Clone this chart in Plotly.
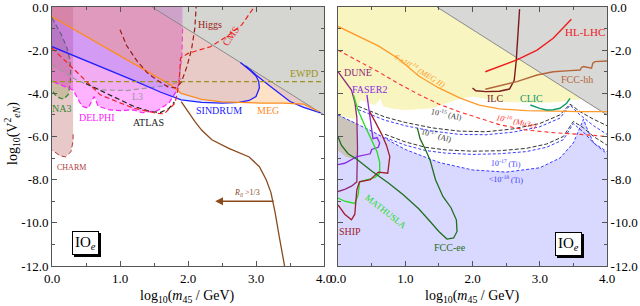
import plotly.graph_objects as go

FONT = "Liberation Serif"

# ---------------- shared geometry ----------------
GRAYTRI_X = [1.47, 4.0, 4.0]
GRAYTRI_Y = [0.0, 0.0, -5.0]

# ---------------- left panel data ----------------
CHARM_X = [0, 0.31, 0.31, 0.28, 0.2, 0.12, 0.05, 0]
CHARM_Y = [0, 0, -6.2, -6.7, -6.94, -6.9, -6.75, -6.62]
CHARM_EDGE_X = [0.31, 0.31, 0.28, 0.2, 0.12, 0.05, 0]
CHARM_EDGE_Y = [-5.9, -6.2, -6.7, -6.94, -6.9, -6.75, -6.62]

NA3_X = [0, 0.05, 0.14, 0.22, 0.26, 0.275, 0.27, 0.24, 0.17, 0.10, 0.04, 0.0]
NA3_Y = [-0.5, -0.8, -1.3, -1.9, -2.4, -2.9, -3.5, -4.05, -4.27, -4.2, -4.05, -3.85]

DELPHI_X = [0, 1.92, 1.92, 1.91, 1.88, 1.86, 1.84, 1.72, 1.55, 1.33, 1.2, 1.0, 0.85,
            0.68, 0.62, 0.53, 0.44, 0.31, 0.02, 0]
DELPHI_Y = [0, 0, -1.0, -2.3, -3.0, -3.6, -3.84, -4.45, -4.8, -4.9, -4.77, -4.8, -4.77,
            -4.6, -4.15, -4.69, -4.6, -3.84, -3.47, -3.45]

L3_X = [0, 0.36, 0.71, 1.1, 1.39, 1.69, 1.85, 1.9, 1.9, 0]
L3_Y = [-2.69, -3.38, -3.84, -3.87, -3.76, -3.64, -3.5, -3.3, 0, 0]

SINDA_X = [0, 0.4, 0.8, 1.2, 1.6, 1.9, 2.2, 2.5, 2.75, 2.9, 3.0, 3.05, 3.04, 3.0, 2.92, 2.77]
SINDA_Y = [-1.84, -2.35, -2.87, -3.4, -3.95, -4.3, -4.42, -4.45, -4.42, -4.33, -4.15, -3.75,
           -3.45, -3.2, -2.95, -2.57]
SINDB_X = [2.85, 3.0, 3.18, 3.35, 3.5, 3.7, 3.95]
SINDB_Y = [-2.73, -3.15, -3.6, -4.0, -4.38, -4.65, -4.9]

MEG_X = [0, 0.4, 0.8, 1.2, 1.6, 1.75, 1.9, 2.2, 2.5, 2.8, 3.1, 3.4, 3.7, 3.92]
MEG_Y = [-0.45, -1.17, -1.9, -2.62, -3.35, -3.62, -4.0, -4.28, -4.4, -4.43, -4.45, -4.45,
         -4.5, -4.84]

EWPD_X = [0, 4]
EWPD_Y = [-3.46, -3.46]

ATLAS_X = [0.5, 0.7, 0.95, 1.2, 1.45, 1.6, 1.72, 1.8]
ATLAS_Y = [-3.55, -3.85, -4.25, -4.6, -4.85, -4.88, -4.7, -4.4]

CMS_X = [0, 0.36, 0.71, 1.2, 1.54, 1.65, 1.81, 1.87, 1.89, 2.0, 2.33, 2.57, 2.79, 2.96]
CMS_Y = [-1.9, -3.0, -4.07, -4.69, -4.92, -4.95, -4.45, -3.53, -2.37, -2.15, -1.84, -1.37,
         -0.83, -0.06]

HIGGS_X = [1.0, 1.1, 1.25, 1.4, 1.55, 1.7, 1.82, 1.9, 1.98, 2.05, 2.1, 2.12]
HIGGS_Y = [-1.05, -1.8, -2.5, -3.05, -3.4, -3.7, -3.75, -3.5, -2.8, -2.0, -1.0, 0]

RLL_X = [1.9, 2.0, 2.1, 2.2, 2.35, 2.6, 2.9, 3.05, 3.15, 3.22, 3.28, 3.34, 3.42]
RLL_Y = [-4.38, -4.85, -5.3, -5.7, -6.15, -6.55, -6.95, -7.4, -8.0, -8.6, -9.5, -10.6, -12]

# ---------------- right panel data ----------------
YEL_X = [0, 1.47, 3.6, 3.6, 3.46, 3.3, 2.96, 2.46, 2.0, 1.76, 1.4, 1.0, 0.8, 0.67, 0.63,
         0.6, 0.55, 0.45, 0.33, 0.25, 0]
YEL_Y = [0, 0, -4.21, -4.3, -4.3, -4.4, -4.45, -4.4, -4.15, -4.3, -4.69, -4.77, -4.72,
         -4.6, -4.25, -4.35, -4.55, -4.45, -4.3, -5.2, -5.0]

BLUE_X = [0, 0.5, 1.0, 1.5, 2.0, 2.5, 3.0, 3.3, 3.5, 3.6, 3.65, 3.7, 3.8, 4.0]
BLUE_Y = [-5.0, -5.75, -6.6, -7.2, -7.55, -7.65, -7.45, -7.0, -6.3, -5.6, -5.2, -5.6,
          -6.3, -6.8]

BLOCK_X = [0, 0.28, 0.28, 0.22, 0.12, 0.04, 0]
BLOCK_Y = [-5.0, -5.4, -6.95, -7.02, -6.95, -6.75, -6.65]

MEG2_X = [0, 0.3, 0.6, 0.9, 1.2, 1.5, 1.8, 2.1, 2.4, 2.8, 3.2, 3.6, 4.0]
MEG2_Y = [-0.9, -1.35, -1.8, -2.4, -3.2, -3.75, -4.2, -4.55, -4.72, -4.8, -4.84, -4.85, -4.85]

MU3E_X = [0, 0.3, 0.6, 0.9, 1.2, 1.5, 1.8, 2.1, 2.4, 2.8, 3.2, 3.6, 4.0]
MU3E_Y = [-2.0, -2.5, -3.0, -3.55, -4.05, -4.5, -4.85, -5.15, -5.45, -5.7, -5.82, -5.9, -6.0]

AL15_X = [0.3, 0.7, 1.0, 1.4, 1.8, 2.2, 2.6, 3.0, 3.3, 3.45, 3.6, 3.8, 4.0]
AL15_Y = [-4.6, -5.1, -5.35, -5.6, -5.75, -5.78, -5.65, -5.4, -5.0, -4.5, -4.85, -5.2, -5.5]
TI15_Y = [-4.75, -5.25, -5.5, -5.75, -5.9, -5.92, -5.8, -5.55, -5.15, -4.55, -5.0, -5.5, -5.9]

AL17_X = [0.7, 1.0, 1.3, 1.6, 2.0, 2.4, 2.8, 3.1, 3.35, 3.5, 3.65, 3.8, 4.0]
AL17_Y = [-5.9, -6.25, -6.5, -6.62, -6.68, -6.66, -6.55, -6.35, -6.0, -5.3, -5.6, -6.0, -6.4]
TI17_Y = [-6.05, -6.4, -6.65, -6.77, -6.83, -6.8, -6.7, -6.5, -6.15, -5.4, -5.8, -6.3, -6.7]

DUNE_X = [0, 0.1, 0.2, 0.25, 0.28, 0.29, 0.29, 0.28, 0.2, 0.1, 0.0]
DUNE_Y = [-3.0, -3.4, -3.85, -4.4, -5.1, -6.5, -7.6, -8.1, -8.3, -8.45, -8.55]

FASER_X = [0.43, 0.46, 0.5, 0.52, 0.58, 0.62, 0.6, 0.5, 0.48, 0.4, 0.28, 0.1, 0.0]
FASER_Y = [-4.07, -4.8, -5.5, -6.1, -6.05, -6.3, -6.5, -6.6, -6.8, -6.85, -6.93, -7.24, -7.3]

MATH_X = [0.23, 0.3, 0.4, 0.5, 0.58, 0.62, 0.62, 0.55, 0.45, 0.32, 0.3, 0.25, 0.1, 0.0]
MATH_Y = [-4.07, -4.8, -5.5, -6.2, -6.7, -7.2, -7.7, -7.9, -8.0, -8.1, -8.7, -9.1, -9.0, -8.85]

SHIP_X = [0.0, 0.1, 0.2, 0.25, 0.28, 0.32, 0.48, 0.6, 0.74, 0.77, 0.72, 0.65, 0.55, 0.47]
SHIP_Y = [-9.17, -9.6, -9.86, -9.6, -8.47, -8.1, -8.0, -7.65, -7.7, -6.93, -6.4, -5.9, -5.3, -4.85]

FCCEE_X = [0.0, 0.05, 0.15, 0.28, 0.5, 0.75, 0.97, 1.2, 1.37, 1.5, 1.62, 1.72, 1.77, 1.76,
           1.68, 1.56, 1.45, 1.37, 1.3, 1.22, 1.18]
FCCEE_Y = [-6.0, -6.4, -6.8, -7.05, -7.6, -8.15, -8.7, -9.35, -9.94, -10.4, -10.75, -10.7,
           -10.4, -9.86, -9.3, -8.78, -8.0, -7.1, -6.6, -6.1, -5.6]

ILC_X = [2.0, 2.05, 2.2, 2.4, 2.55, 2.62, 2.65, 2.67, 2.69, 2.7]
ILC_Y = [-3.75, -3.88, -3.92, -3.9, -3.8, -3.4, -2.5, -1.5, -0.6, -0.1]

HLLHC_X = [2.19, 2.45, 2.66, 2.96, 3.2, 3.47]
HLLHC_Y = [-3.0, -2.7, -2.45, -2.0, -1.45, -0.57]

FCCHH_X = [2.19, 2.4, 2.66, 2.96, 3.2, 3.45, 3.6, 3.62, 3.65, 3.77, 3.79, 3.82, 4.0]
FCCHH_Y = [-3.81, -3.65, -3.46, -3.15, -3.0, -2.95, -2.92, -2.8, -2.76, -2.84, -2.6, -2.53, -2.5]

CLIC_X = [2.86, 3.0, 3.1, 3.2, 3.3, 3.4, 3.45]
CLIC_Y = [-4.54, -4.7, -4.77, -4.76, -4.69, -4.46, -4.23]

X_TICKS = [0, 1, 2, 3, 4]
X_TICKTEXT = ["0.0", "1.0", "2.0", "3.0", "4.0"]
X_MINOR = [0.5, 1.5, 2.5, 3.5]
Y_TICKS = [0, -2, -4, -6, -8, -10, -12]
Y_TICKTEXT = ["0.0", "-2.0", "-4.0", "-6.0", "-8.0", "-10.0", "-12.0"]
Y_MINOR = [-1, -3, -5, -7, -9, -11]

fig = go.Figure()


def poly(x, y, fill, line=None, width=1.0, dash="solid", ax=1):
    fig.add_trace(go.Scatter(
        x=x, y=y, mode="lines", fill="toself", fillcolor=fill,
        line=dict(color=line if line else "rgba(0,0,0,0)", width=width if line else 0, dash=dash),
        xaxis="x" if ax == 1 else "x2", yaxis="y" if ax == 1 else "y2",
        hoverinfo="skip", showlegend=False))


def line(x, y, color, width=1.2, dash="solid", ax=1):
    fig.add_trace(go.Scatter(
        x=x, y=y, mode="lines", line=dict(color=color, width=width, dash=dash),
        xaxis="x" if ax == 1 else "x2", yaxis="y" if ax == 1 else "y2",
        hoverinfo="skip", showlegend=False))


DASH = "5px,3px"

# ---------- left panel ----------
poly(CHARM_X, CHARM_Y, "rgba(185,100,100,0.35)")
line(CHARM_EDGE_X, CHARM_EDGE_Y, "#b03a3a", 1.0, DASH)
poly(NA3_X, NA3_Y, "rgba(150,160,90,0.35)", "#2e8b2e", 1.3, DASH)
poly(DELPHI_X, DELPHI_Y, "rgba(255,0,255,0.30)")
line(DELPHI_X[2:], DELPHI_Y[2:], "#ff20ff", 1.2, DASH)
poly(L3_X, L3_Y, "rgba(128,128,128,0.10)")
line(L3_X[:8], L3_Y[:8], "#9a9a9a", 1.2, DASH)
poly(SINDA_X + [1.47, 0], SINDA_Y + [0, 0], "rgba(80,80,255,0.18)")
poly(SINDB_X, SINDB_Y, "rgba(80,80,255,0.18)")
poly(MEG_X + [1.47, 0], MEG_Y + [0, 0], "rgba(255,150,50,0.28)")
poly(GRAYTRI_X, GRAYTRI_Y, "rgba(150,150,140,0.40)")
line(GRAYTRI_X[::2], GRAYTRI_Y[::2], "#8a8a8a", 1.0)
line(SINDA_X, SINDA_Y, "#2020ff", 1.3)
line(SINDB_X, SINDB_Y, "#2020ff", 1.3)
line(MEG_X, MEG_Y, "#ff8c1a", 1.3)
line(EWPD_X, EWPD_Y, "#9c9420", 1.3, DASH)
line(ATLAS_X, ATLAS_Y, "#202020", 1.2, DASH)
line(CMS_X, CMS_Y, "#ee2020", 1.2, DASH)
line(HIGGS_X, HIGGS_Y, "#9b1c1c", 1.2, DASH)
line(RLL_X, RLL_Y, "#8b4a1c", 1.3)

# ---------- right panel ----------
poly(YEL_X, YEL_Y, "rgb(248,245,192)", ax=2)
poly(GRAYTRI_X, GRAYTRI_Y, "rgb(216,216,214)", ax=2)
line(GRAYTRI_X[::2], GRAYTRI_Y[::2], "#8a8a8a", 1.0, ax=2)
poly(BLUE_X + [4, 0], BLUE_Y + [-12, -12], "rgba(160,160,255,0.40)", ax=2)
poly(BLOCK_X, BLOCK_Y, "rgba(200,192,175,0.85)", ax=2)
line(BLUE_X, BLUE_Y, "#3a3aff", 1.0, "3px,2px", ax=2)
line(AL17_X, TI17_Y, "#3a3aff", 1.0, "3px,2px", ax=2)
line(AL15_X, TI15_Y, "#3a3aff", 1.0, "3px,2px", ax=2)
line(AL17_X, AL17_Y, "#333333", 1.0, "4px,2px", ax=2)
line(AL15_X, AL15_Y, "#333333", 1.0, "4px,2px", ax=2)
line(MEG2_X, MEG2_Y, "#ff9a2a", 1.3, ax=2)
line(MU3E_X, MU3E_Y, "#ff3030", 1.1, "4px,3px", ax=2)
line(DUNE_X, DUNE_Y, "#8e2a7a", 1.3, ax=2)
line(FASER_X, FASER_Y, "#8a2be2", 1.3, ax=2)
line(MATH_X, MATH_Y, "#22dd22", 1.3, ax=2)
line(SHIP_X, SHIP_Y, "#a01c2c", 1.3, ax=2)
line(FCCEE_X, FCCEE_Y, "#1f6e1f", 1.3, ax=2)
line(ILC_X, ILC_Y, "#7a1a1a", 1.4, ax=2)
line(HLLHC_X, HLLHC_Y, "#ee1c1c", 1.4, ax=2)
line(FCCHH_X, FCCHH_Y, "#b5653a", 1.4, ax=2)
line(CLIC_X, CLIC_Y, "#109a6a", 1.4, ax=2)

ann = []


def label(x, y, text, color, size=10, ax=1, angle=0, italic=False):
    ann.append(dict(x=x, y=y, xref="x" if ax == 1 else "x2", yref="y" if ax == 1 else "y2",
                    text=("<i>%s</i>" % text) if italic else text, showarrow=False,
                    xanchor="center", yanchor="middle",
                    textangle=angle, font=dict(family=FONT, size=size, color=color)))


label(2.33, -0.8, "Higgs", "#9b1c1c", 10)
label(2.62, -1.35, "CMS", "#ee2020", 10, angle=-55)
label(3.7, -3.1, "EWPD", "#9c9420", 10)
label(2.45, -4.8, "SINDRUM", "#2020ff", 10)
label(3.18, -4.8, "MEG", "#ff8c1a", 10)
label(1.42, -5.36, "ATLAS", "#202020", 10)
label(0.66, -5.12, "DELPHI", "#ff20ff", 10)
label(1.25, -4.15, "L3", "#9a9a9a", 10)
label(0.14, -4.72, "NA3", "#2e8b2e", 10)
label(0.29, -7.42, "CHARM", "#b03a3a", 8)
label(2.87, -8.62, "<i>R</i><sub><i>ll</i></sub> >1/3", "#8b4a1c", 8)
ann.append(dict(x=2.4, y=-9.0, ax=3.28, ay=-9.0, xref="x", yref="y", axref="x", ayref="y",
                showarrow=True, arrowhead=2, arrowsize=1.2, arrowwidth=1.3,
                arrowcolor="#8b4a1c", text=""))

label(1.22, -2.9, "6 x10<sup>-14</sup> (MEG II)", "#ff9a2a", 8, 2, 31, True)
label(2.66, -5.3, "10<sup>-16</sup> (Mu3e)", "#ff3030", 8, 2, 12, True)
label(1.62, -4.95, "10<sup>-15</sup> (Al)", "#333333", 8, 2, 12)
label(1.47, -5.93, "10<sup>-17</sup> (Al)", "#333333", 8, 2, 16)
label(2.5, -7.24, "10<sup>-17</sup> (Ti)", "#3a3aff", 8, 2, 3)
label(2.5, -7.97, "<10<sup>-18</sup> (Ti)", "#3a3aff", 8, 2, 3)
label(0.3, -3.05, "DUNE", "#8e2a7a", 10, 2)
label(0.47, -3.84, "FASER2", "#8a2be2", 10, 2)
label(0.72, -9.5, "MATHUSLA", "#22dd22", 9, 2, 38)
label(0.18, -10.4, "SHIP", "#a01c2c", 10, 2)
label(1.67, -11.16, "FCC-ee", "#1f6e1f", 10, 2)
label(2.33, -4.23, "ILC", "#7a1a1a", 10, 2)
label(3.67, -1.14, "HL-LHC", "#ee1c1c", 11, 2)
label(3.55, -3.38, "FCC-hh", "#b5653a", 10, 2)
label(2.88, -4.23, "CLIC", "#109a6a", 10, 2)

for ax_id, (bx, by) in ((1, (0.49, -10.95)), (2, (3.43, -10.97))):
    xr = "x" if ax_id == 1 else "x2"
    yr = "y" if ax_id == 1 else "y2"
    ann.append(dict(x=bx, y=by, xref=xr, yref=yr, text="IO<sub><i>e</i></sub>", showarrow=False,
                    xshift=2, yshift=-2, bgcolor="black", bordercolor="black", borderwidth=1,
                    borderpad=2, font=dict(family=FONT, size=15, color="black")))
    ann.append(dict(x=bx, y=by, xref=xr, yref=yr, text="IO<sub><i>e</i></sub>", showarrow=False,
                    bgcolor="white", bordercolor="black", borderwidth=1, borderpad=2,
                    font=dict(family=FONT, size=15, color="black")))

ann.append(dict(x=12 / 640, y=(306 - 134) / 306, xref="paper", yref="paper", showarrow=False,
                textangle=-90, xanchor="center", yanchor="middle",
                text="log<sub>10</sub>(V<sup>2</sup><sub><i>eN</i></sub>)",
                font=dict(family=FONT, size=14, color="black")))
for cx in (187 / 640, 472 / 640):
    ann.append(dict(x=cx, y=(306 - 296) / 306, xref="paper", yref="paper", showarrow=False,
                    xanchor="center", yanchor="middle",
                    text="log<sub>10</sub>(<i>m</i><sub>45</sub> / GeV)",
                    font=dict(family=FONT, size=14, color="black")))

axis_common = dict(showgrid=False, zeroline=False, showline=True,
                   linecolor="#555555", linewidth=1, mirror="allticks", ticks="inside",
                   tickcolor="#555555", automargin=False, ticklabeloverflow="allow",
                   tickfont=dict(family=FONT, size=13, color="black"))

xa = dict(axis_common, range=[0, 4], tickvals=X_TICKS, ticktext=X_TICKTEXT, ticklen=5,
          minor=dict(tickvals=X_MINOR, ticks="inside", ticklen=3, tickcolor="#555555"))
ya = dict(axis_common, range=[-12, 0], tickvals=Y_TICKS, ticktext=Y_TICKTEXT, ticklen=5,
          minor=dict(tickvals=Y_MINOR, ticks="inside", ticklen=3, tickcolor="#555555"))

fig.update_layout(
    width=640, height=306, margin=dict(l=0, r=0, t=0, b=0),
    paper_bgcolor="white", plot_bgcolor="white", showlegend=False,
    xaxis=dict(xa, domain=[52 / 640, 324 / 640], anchor="y"),
    yaxis=dict(ya, domain=[40 / 306, 299 / 306], anchor="x"),
    xaxis2=dict(xa, domain=[338 / 640, 607 / 640], anchor="y2"),
    yaxis2=dict(ya, domain=[40 / 306, 299 / 306], anchor="x2", side="right"),
    annotations=ann,
)

fig.write_html("out.html", config={"displayModeBar": False},
               post_script="document.body.style.margin='0px';document.body.style.overflow='hidden';")
